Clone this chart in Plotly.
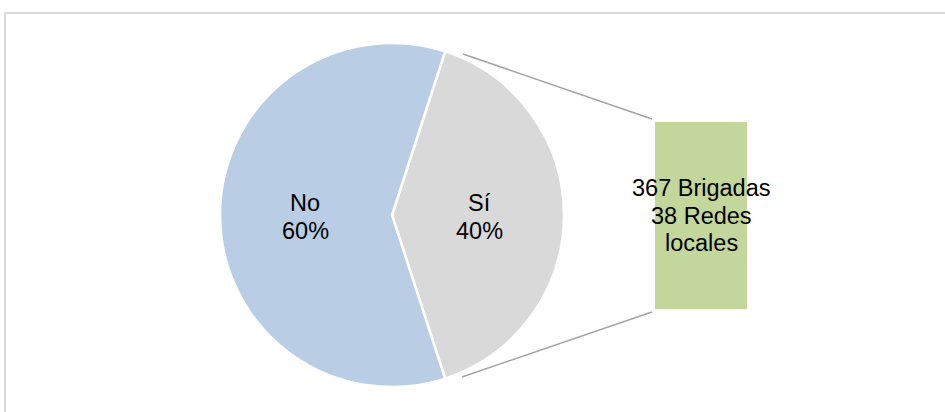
import plotly.graph_objects as go

W, H = 945, 412

# Data
categories = ["Sí", "No"]
shares = [40, 60]
detail_lines = ["367 Brigadas", "38 Redes", "locales"]

colors = {"Sí": "#D9D9D9", "No": "#B9CDE5"}
bar_color = "#C3D69B"
line_gray = "#A3A3A3"
FS = 23.5
LINE_STEP = 27.6


def px(x):
    return x / W


def py(y):
    return 1 - y / H


fig = go.Figure()

# Pie: centre (392, 215), radius 172 px
cx, cy, r = 392, 215, 172
fig.add_trace(go.Pie(
    labels=categories,
    values=shares,
    sort=False,
    direction="clockwise",
    rotation=18,
    marker=dict(colors=[colors[c] for c in categories],
                line=dict(color="white", width=2.5)),
    textinfo="none",
    hoverinfo="label+percent",
    domain=dict(x=[px(cx - r), px(cx + r)], y=[py(cy + r), py(cy - r)]),
    showlegend=False,
))

# Secondary bar breaking down the "Sí" share
fig.add_trace(go.Bar(
    x=["Sí"],
    y=[shares[0]],
    marker=dict(color=bar_color, line=dict(width=0)),
    width=1,
    textposition="none",
    hoverinfo="skip",
    showlegend=False,
    xaxis="x", yaxis="y",
))

bar_left, bar_right, bar_top, bar_bottom = 655, 747, 122, 309

fig.update_layout(
    width=W, height=H,
    margin=dict(l=0, r=0, t=0, b=0),
    paper_bgcolor="white",
    plot_bgcolor="rgba(0,0,0,0)",
    font=dict(family="Liberation Sans, Arial, sans-serif", size=FS, color="black"),
    xaxis=dict(domain=[px(bar_left), px(bar_right)], range=[-0.5, 0.5],
               visible=False, fixedrange=True),
    yaxis=dict(domain=[py(bar_bottom), py(bar_top)], range=[0, shares[0]],
               visible=False, fixedrange=True),
    bargap=0,
)


def text_block(lines, x, first_baseline):
    """Stack lines of centred text with a fixed baseline step."""
    for i, line in enumerate(lines):
        b = first_baseline + i * LINE_STEP
        fig.add_annotation(x=px(x), y=py(b - 0.36 * FS), xref="paper", yref="paper",
                           text=line, showarrow=False, xanchor="center",
                           yanchor="middle", font=dict(size=FS, color="black"))


# Slice labels
label_x = {"No": 305, "Sí": 479}
for cat, val in zip(categories, shares):
    text_block([cat, f"{val}%"], label_x[cat], 211.7)

# Bar label
text_block(detail_lines, 701, 196.7)

# Connector lines from pie to bar
fig.add_shape(type="line", xref="paper", yref="paper",
              x0=px(463), y0=py(54), x1=px(652), y1=py(119),
              line=dict(color=line_gray, width=1.5))
fig.add_shape(type="line", xref="paper", yref="paper",
              x0=px(462), y0=py(377), x1=px(652), y1=py(312),
              line=dict(color=line_gray, width=1.5))

# Chart frame
fig.add_shape(type="rect", xref="paper", yref="paper",
              x0=px(5), y0=py(13), x1=px(960), y1=py(430),
              line=dict(color="#D9D9D9", width=2), layer="below")

fig.write_html("out.html")
